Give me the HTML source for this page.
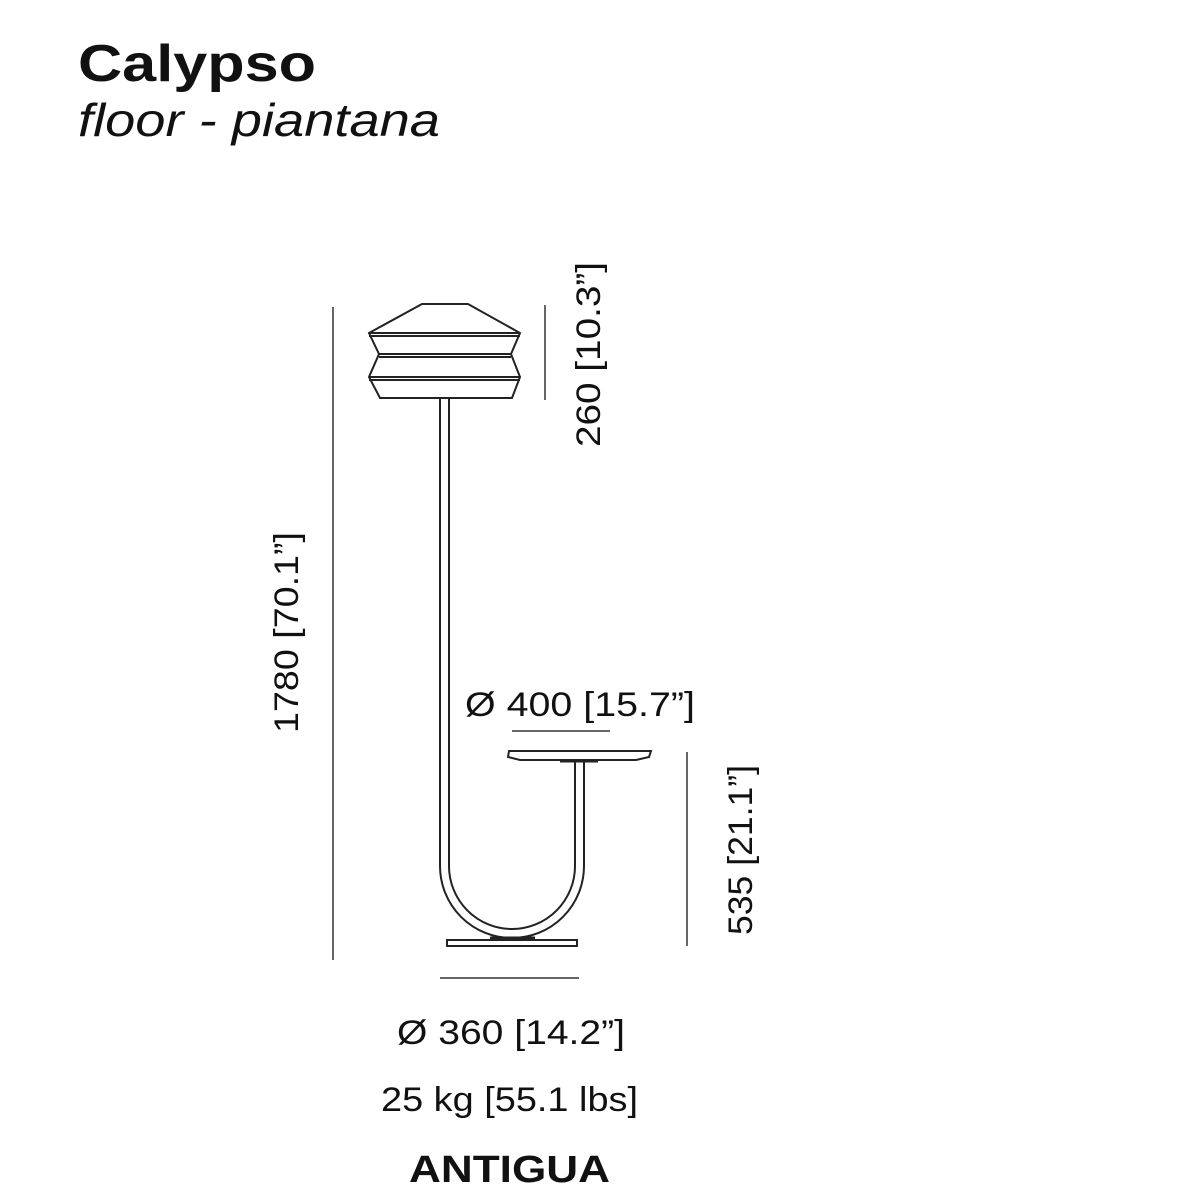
<!DOCTYPE html>
<html><head><meta charset="utf-8"><style>
html,body{margin:0;padding:0;background:#fff;}
svg{display:block}
text{font-family:"Liberation Sans",sans-serif;fill:#111;}
</style></head><body>
<svg width="1200" height="1200" viewBox="0 0 1200 1200">
<text x="78" y="81" font-size="52" font-weight="bold" textLength="238" lengthAdjust="spacingAndGlyphs">Calypso</text>
<text x="78" y="136" font-size="46" font-style="italic" fill="#222" textLength="362" lengthAdjust="spacingAndGlyphs">floor - piantana</text>

<g fill="none" stroke="#222" stroke-width="2">
<polygon points="422,304 468,304 520,333 511,354 520,377 512,398 380,398 369,377 379,354 369,333" fill="#fff"/>
<line x1="369" y1="333" x2="520" y2="333"/><line x1="369" y1="336" x2="520" y2="336"/>
<line x1="379" y1="354" x2="511" y2="354"/><line x1="379" y1="357" x2="511" y2="357"/>
<line x1="369" y1="377" x2="520" y2="377"/><line x1="369" y1="380" x2="520" y2="380"/>
<path d="M440,398 L440,866 A72,72 0 0 0 584,866 L584,760"/>
<path d="M449,398 L449,866 A63,63 0 0 0 575,866 L575,760"/>
<path d="M509,751 L651,751 L649,757 L636,760 L520,760 L508,757 Z" fill="#fff"/>
<line x1="560" y1="761" x2="598" y2="761" stroke-width="3"/>
<rect x="447" y="940" width="130" height="6" fill="#fff"/>
<line x1="490" y1="938" x2="535" y2="938" stroke-width="3"/>
</g>

<g stroke="#333" stroke-width="1.5">
<line x1="333" y1="307" x2="333" y2="960"/>
<line x1="545" y1="305" x2="545" y2="400"/>
<line x1="687" y1="752" x2="687" y2="946"/>
<line x1="512" y1="731" x2="610" y2="731"/>
<line x1="440" y1="978" x2="579" y2="978"/>
</g>

<text transform="translate(298,733) rotate(-90)" font-size="34" textLength="201" lengthAdjust="spacingAndGlyphs">1780 [70.1”]</text>
<text transform="translate(600,447) rotate(-90)" font-size="34" textLength="185" lengthAdjust="spacingAndGlyphs">260 [10.3”]</text>
<text transform="translate(752,935) rotate(-90)" font-size="34" textLength="170" lengthAdjust="spacingAndGlyphs">535 [21.1”]</text>
<text x="465" y="716" font-size="34" textLength="230" lengthAdjust="spacingAndGlyphs">Ø 400 [15.7”]</text>
<text x="397" y="1044" font-size="34" textLength="228" lengthAdjust="spacingAndGlyphs">Ø 360 [14.2”]</text>
<text x="381" y="1111" font-size="34" textLength="257" lengthAdjust="spacingAndGlyphs">25 kg [55.1 lbs]</text>
<text x="409" y="1182" font-size="38" font-weight="bold" textLength="201" lengthAdjust="spacingAndGlyphs">ANTIGUA</text>
</svg>
</body></html>
